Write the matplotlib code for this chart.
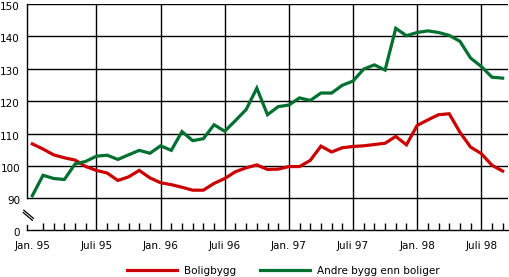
import numpy as np
import matplotlib
matplotlib.use("Agg")
import matplotlib.pyplot as plt
from matplotlib.lines import Line2D
from matplotlib.transforms import ScaledTranslation

# monthly index, Jan. 95 = 0 ... Sep. 98 = 44
months = np.arange(45)

boligbygg = [106.8, 105.2, 103.4, 102.5, 101.8, 99.8, 98.6, 97.8, 95.5, 96.6,
             98.6, 96.3, 94.8, 94.2, 93.4, 92.5, 92.5, 94.6, 96.1, 98.2,
             99.4, 100.3, 98.9, 99.0, 99.8, 99.8, 101.7, 106.1, 104.3, 105.6,
             106.0, 106.2, 106.6, 107.0, 109.1, 106.5, 112.5, 114.2, 115.8, 116.1,
             110.4, 105.8, 103.8, 100.2, 98.4]

andre_bygg = [90.8, 97.1, 96.1, 95.8, 100.6, 101.4, 103.0, 103.3, 102.0, 103.4,
              104.8, 103.9, 106.2, 104.8, 110.6, 107.8, 108.4, 112.7, 110.7, 114.0,
              117.4, 124.0, 115.8, 118.3, 118.8, 121.0, 120.2, 122.5, 122.5, 124.9,
              126.2, 129.9, 131.2, 129.6, 142.5, 140.2, 141.2, 141.7, 141.2, 140.3,
              138.5, 133.3, 130.7, 127.4, 127.1]

xtick_pos = [0, 6, 12, 18, 24, 30, 36, 42]
xtick_labels = ["Jan. 95", "Juli 95", "Jan. 96", "Juli 96", "Jan. 97", "Juli 97", "Jan. 98", "Juli 98"]
ytick_vals = [90, 100, 110, 120, 130, 140, 150]

red = "#cc0000"
green = "#007030"
fs = 7.5

# broken axis: "0" sits a short way under 90
y0 = 80.2

fig = plt.figure(figsize=(5.09, 2.77), dpi=100)
ax = fig.add_axes([27/509, 47/277, 481/509, 226/277])

ax.plot(months, boligbygg, color=red, lw=2.3, solid_joinstyle="miter")
ax.plot(months, andre_bygg, color=green, lw=2.3, solid_joinstyle="miter")

ax.set_xlim(-0.5, 44.5)
ax.set_ylim(y0, 150)

for s in ["top", "right", "left"]:
    ax.spines[s].set_visible(False)
ax.spines["bottom"].set_linewidth(1.0)

for v in ytick_vals:
    ax.axhline(v, color="black", lw=1.0, zorder=0)
for m in xtick_pos[1:]:
    ax.axvline(m, color="black", lw=1.0, zorder=0)

# left axis with break
ax.plot([-0.5, -0.5], [90, 150], color="black", lw=1.0, clip_on=False)
ax.plot([-0.5, -0.5], [y0, y0 + 1.6], color="black", lw=1.0, clip_on=False)
ax.plot([-0.8, 0.1], [86.3, 83.8], color="black", lw=0.9, clip_on=False)
ax.plot([-0.85, 0.0], [85.6, 83.2], color="black", lw=0.9, clip_on=False)

ax.set_yticks([y0] + ytick_vals)
ax.set_yticklabels(["0"] + [str(v) for v in ytick_vals])
ax.tick_params(axis="y", length=0, pad=5, labelsize=fs)
shift = ScaledTranslation(0, -2/100, fig.dpi_scale_trans)
for lab in ax.get_yticklabels():
    lab.set_transform(lab.get_transform() + shift)

ax.set_xticks(xtick_pos)
ax.set_xticklabels(xtick_labels)
ax.set_xticks(months, minor=True)
ax.tick_params(axis="x", which="major", length=0, pad=8, labelsize=fs)
ax.tick_params(axis="x", which="minor", direction="in", length=5, width=1.0)

handles = [Line2D([], [], color=red, lw=2.3), Line2D([], [], color=green, lw=2.3)]
fig.legend(handles, ["Boligbygg", "Andre bygg enn boliger"], ncol=2, frameon=False,
           loc="center", bbox_to_anchor=(283/509, 1 - 271/277), fontsize=fs,
           handlelength=4.8, columnspacing=2.3, handletextpad=0.67)

fig.savefig("out.png", dpi=100)
